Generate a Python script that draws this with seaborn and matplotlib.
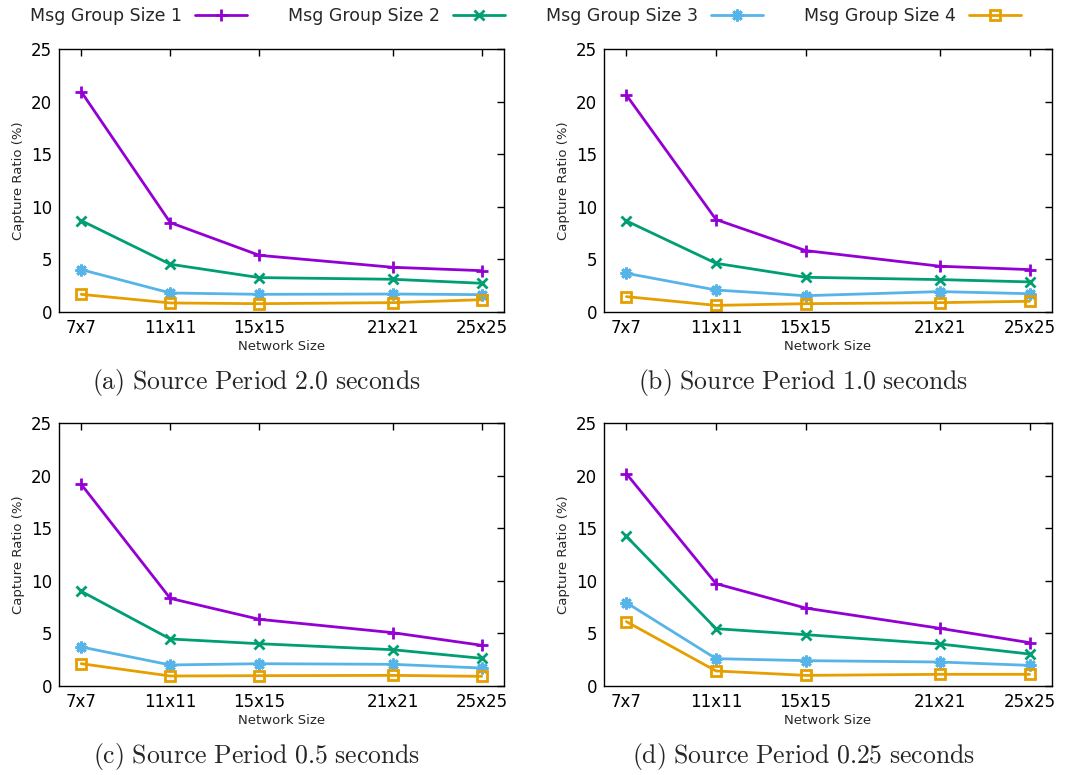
import numpy as np
import pandas as pd
import matplotlib
matplotlib.use("Agg")
import matplotlib.pyplot as plt
import seaborn as sns
from matplotlib.lines import Line2D

network_sizes = [7, 11, 15, 21, 25]
size_labels = ["7x7", "11x11", "15x15", "21x21", "25x25"]
groups = ["Msg Group Size 1", "Msg Group Size 2", "Msg Group Size 3", "Msg Group Size 4"]

period_2_0 = {
    "Msg Group Size 1": [20.94, 8.5, 5.39, 4.25, 3.93],
    "Msg Group Size 2": [8.69, 4.54, 3.27, 3.11, 2.73],
    "Msg Group Size 3": [4.03, 1.81, 1.68, 1.71, 1.65],
    "Msg Group Size 4": [1.68, 0.86, 0.79, 0.89, 1.17],
}
period_1_0 = {
    "Msg Group Size 1": [20.62, 8.79, 5.84, 4.35, 4.03],
    "Msg Group Size 2": [8.66, 4.63, 3.30, 3.08, 2.86],
    "Msg Group Size 3": [3.68, 2.09, 1.55, 1.94, 1.74],
    "Msg Group Size 4": [1.46, 0.63, 0.79, 0.89, 1.02],
}
period_0_5 = {
    "Msg Group Size 1": [19.17, 8.33, 6.34, 5.07, 3.87],
    "Msg Group Size 2": [9.0, 4.47, 4.02, 3.45, 2.63],
    "Msg Group Size 3": [3.71, 2.0, 2.12, 2.06, 1.71],
    "Msg Group Size 4": [2.12, 0.95, 0.98, 1.01, 0.92],
}
period_0_25 = {
    "Msg Group Size 1": [20.18, 9.73, 7.41, 5.48, 4.12],
    "Msg Group Size 2": [14.23, 5.45, 4.88, 3.99, 3.04],
    "Msg Group Size 3": [7.92, 2.6, 2.41, 2.28, 1.96],
    "Msg Group Size 4": [6.12, 1.43, 1.01, 1.11, 1.11],
}

panels = [
    ("(a) Source Period 2.0 seconds", period_2_0),
    ("(b) Source Period 1.0 seconds", period_1_0),
    ("(c) Source Period 0.5 seconds", period_0_5),
    ("(d) Source Period 0.25 seconds", period_0_25),
]

colors = ["#9400D3", "#009E73", "#56B4E9", "#E69F00"]
palette = dict(zip(groups, colors))
markers = {groups[0]: "+", groups[1]: "x", groups[2]: (8, 2, 0), groups[3]: "s"}
msizes = {groups[0]: 8.5, groups[1]: 7.5, groups[2]: 8.5, groups[3]: 7.5}

sns.set_style("white")
plt.rcParams["font.family"] = ["DejaVu Sans"]
plt.rcParams["mathtext.fontset"] = "cm"

W, H = 1075, 775
fig = plt.figure(figsize=(W / 100, H / 100), dpi=100)

boxes = [
    (59, 49, 504, 312),
    (604, 49, 1052, 312),
    (59, 423, 504, 686),
    (604, 423, 1052, 686),
]

for (caption, data), (l, t, r, b) in zip(panels, boxes):
    ax = fig.add_axes([l / W, 1 - b / H, (r - l) / W, (b - t) / H])
    for g in groups:
        df = pd.DataFrame({"size": network_sizes, "ratio": data[g]})
        sns.lineplot(data=df, x="size", y="ratio", color=palette[g],
                     marker=markers[g], ax=ax, linewidth=2,
                     markersize=msizes[g], markeredgewidth=2,
                     markeredgecolor=palette[g], markerfacecolor="none")
    ax.set_xlim(6, 26)
    ax.set_ylim(0, 25)
    ax.set_xticks(network_sizes)
    ax.set_xticklabels(size_labels)
    ax.set_yticks([0, 5, 10, 15, 20, 25])
    ax.tick_params(axis="both", direction="in", top=True, right=True,
                   length=5, width=1, labelsize=12, colors="black", pad=5)
    for s in ax.spines.values():
        s.set_visible(True)
        s.set_color("black")
        s.set_linewidth(1)
    ax.set_xlabel("Network Size", fontsize=9.5, labelpad=2)
    ax.set_ylabel("Capture Ratio (%)", fontsize=9.5, labelpad=4)
    cx = ((l + r) / 2 - 25) / W
    txt = "$\\mathrm{" + caption.replace(" ", "\\ ") + "}$"
    fig.text(cx, 1 - (b + 71) / H, txt, ha="center", va="center", fontsize=18.5)

handles = [Line2D([0], [0], color=palette[g], marker=markers[g], lw=2,
                  markersize=msizes[g], markeredgewidth=2, markerfacecolor="none")
           for g in groups]
fig.legend(handles, groups, loc="center", bbox_to_anchor=(0.489, 1 - 16 / H),
           ncol=4, frameon=False, markerfirst=False, fontsize=12.5,
           handlelength=3.0, columnspacing=2.35, handletextpad=0.75)

fig.savefig("out.png", dpi=100, facecolor="white")
